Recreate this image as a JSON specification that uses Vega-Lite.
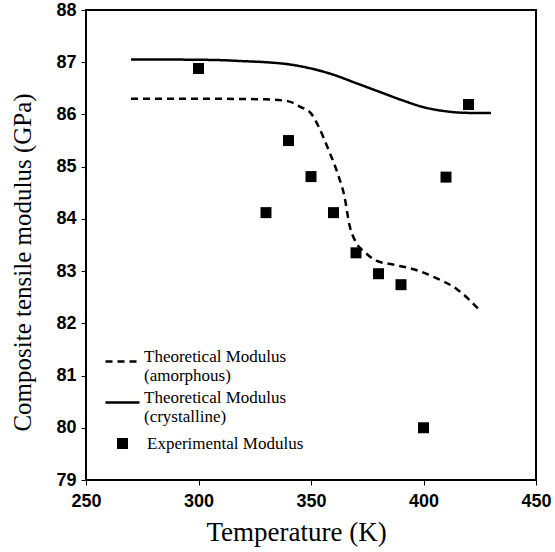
{
  "$schema": "https://vega.github.io/schema/vega-lite/v6.json",
  "width": 450,
  "height": 470,
  "autosize": "none",
  "padding": {"left": 86, "top": 10, "right": 19, "bottom": 72},
  "background": "white",
  "config": {
    "view": {"stroke": "black", "strokeWidth": 2},
    "axis": {
      "grid": false,
      "domain": false,
      "tickColor": "black",
      "tickSize": 5,
      "labelFont": "Liberation Sans",
      "labelFontWeight": "bold",
      "labelFontSize": 18,
      "labelColor": "black",
      "titleFont": "Liberation Serif",
      "titleFontWeight": "normal",
      "titleColor": "black"
    },
    "legend": {
      "labelFont": "Liberation Serif",
      "labelFontSize": 17,
      "labelColor": "black",
      "padding": 0
    }
  },
  "datasets": {
    "theory": [
      {"T": 270, "E": 86.30, "series": "amorphous"},
      {"T": 300, "E": 86.30, "series": "amorphous"},
      {"T": 330, "E": 86.29, "series": "amorphous"},
      {"T": 340, "E": 86.25, "series": "amorphous"},
      {"T": 345, "E": 86.15, "series": "amorphous"},
      {"T": 350, "E": 86.02, "series": "amorphous"},
      {"T": 353, "E": 85.80, "series": "amorphous"},
      {"T": 358, "E": 85.30, "series": "amorphous"},
      {"T": 362, "E": 84.85, "series": "amorphous"},
      {"T": 365, "E": 84.40, "series": "amorphous"},
      {"T": 367, "E": 83.90, "series": "amorphous"},
      {"T": 370, "E": 83.55, "series": "amorphous"},
      {"T": 374, "E": 83.36, "series": "amorphous"},
      {"T": 379, "E": 83.20, "series": "amorphous"},
      {"T": 386, "E": 83.13, "series": "amorphous"},
      {"T": 396, "E": 83.03, "series": "amorphous"},
      {"T": 405, "E": 82.88, "series": "amorphous"},
      {"T": 415, "E": 82.65, "series": "amorphous"},
      {"T": 425, "E": 82.25, "series": "amorphous"},
      {"T": 270, "E": 87.05, "series": "crystalline"},
      {"T": 290, "E": 87.05, "series": "crystalline"},
      {"T": 310, "E": 87.04, "series": "crystalline"},
      {"T": 320, "E": 87.02, "series": "crystalline"},
      {"T": 330, "E": 87.00, "series": "crystalline"},
      {"T": 340, "E": 86.96, "series": "crystalline"},
      {"T": 350, "E": 86.88, "series": "crystalline"},
      {"T": 360, "E": 86.76, "series": "crystalline"},
      {"T": 370, "E": 86.60, "series": "crystalline"},
      {"T": 380, "E": 86.44, "series": "crystalline"},
      {"T": 390, "E": 86.28, "series": "crystalline"},
      {"T": 400, "E": 86.14, "series": "crystalline"},
      {"T": 410, "E": 86.06, "series": "crystalline"},
      {"T": 420, "E": 86.03, "series": "crystalline"},
      {"T": 430, "E": 86.03, "series": "crystalline"}
    ],
    "experiment": [
      {"T": 300, "E": 86.88, "series": "Experimental Modulus"},
      {"T": 330, "E": 84.12, "series": "Experimental Modulus"},
      {"T": 340, "E": 85.50, "series": "Experimental Modulus"},
      {"T": 350, "E": 84.81, "series": "Experimental Modulus"},
      {"T": 360, "E": 84.12, "series": "Experimental Modulus"},
      {"T": 370, "E": 83.35, "series": "Experimental Modulus"},
      {"T": 380, "E": 82.95, "series": "Experimental Modulus"},
      {"T": 390, "E": 82.74, "series": "Experimental Modulus"},
      {"T": 400, "E": 80.00, "series": "Experimental Modulus"},
      {"T": 410, "E": 84.80, "series": "Experimental Modulus"},
      {"T": 420, "E": 86.19, "series": "Experimental Modulus"}
    ]
  },
  "encoding": {
    "x": {
      "field": "T", "type": "quantitative",
      "scale": {"domain": [250, 450], "nice": false, "zero": false},
      "axis": {"title": "Temperature (K)", "titleFontSize": 27, "titleX": 210, "values": [250, 300, 350, 400, 450], "labelPadding": 7, "titlePadding": 9, "labelFlush": false}
    },
    "y": {
      "field": "E", "type": "quantitative",
      "scale": {"domain": [79, 88], "nice": false, "zero": false},
      "axis": {"title": "Composite tensile modulus (GPa)", "titleFontSize": 25, "titleY": 252, "values": [79, 80, 81, 82, 83, 84, 85, 86, 87, 88], "labelPadding": 5, "titlePadding": 20, "labelFlush": false}
    }
  },
  "layer": [
    {
      "data": {"name": "theory"},
      "mark": {"type": "line", "color": "black", "strokeWidth": 2.5, "interpolate": "monotone"},
      "encoding": {
        "strokeDash": {
          "field": "series", "type": "nominal",
          "scale": {"domain": ["amorphous", "crystalline"], "range": [[7, 5], [1, 0]]},
          "legend": {
            "title": null,
            "orient": "none",
            "legendX": 18,
            "legendY": 333,
            "symbolType": "stroke",
            "symbolSize": 1156,
            "symbolStrokeWidth": 2.5,
            "symbolStrokeColor": "black",
            "labelOffset": 3,
            "labelBaseline": "alphabetic",
            "rowPadding": 0,
            "labelExpr": "datum.label == 'amorphous' ? ['Theoretical Modulus', '(amorphous)'] : ['Theoretical Modulus', '(crystalline)']"
          }
        }
      }
    },
    {
      "data": {"name": "experiment"},
      "mark": {"type": "point", "filled": true, "color": "black", "size": 121, "opacity": 1},
      "encoding": {
        "shape": {
          "field": "series", "type": "nominal",
          "scale": {"domain": ["Experimental Modulus"], "range": ["square"]},
          "legend": {
            "title": null,
            "orient": "none",
            "legendX": 28,
            "legendY": 425,
            "symbolSize": 121,
            "symbolFillColor": "black",
            "symbolStrokeColor": "black",
            "symbolOpacity": 1,
            "labelOffset": 16
          }
        }
      }
    }
  ]
}
